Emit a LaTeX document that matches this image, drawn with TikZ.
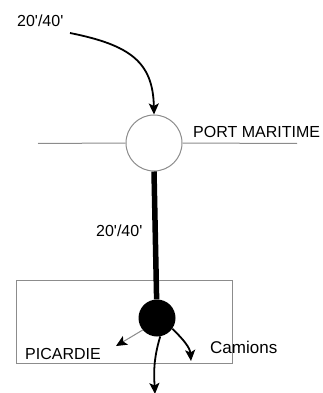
\documentclass[tikz,border=0pt]{standalone}
\usepackage{fontspec}
\setmainfont{Liberation Sans}
\usetikzlibrary{arrows.meta}
\begin{document}
\begin{tikzpicture}[x=1pt,y=-1pt,
  lbl/.style={anchor=base west,inner sep=0pt,font=\fontsize{16}{16}\selectfont},
  thin grey/.style={draw=black!45,line width=1pt},
  tip/.style={-{Stealth[length=11pt,width=10pt,inset=2.5pt,color=black]}},
  flow/.style={draw=black,line width=1.8pt,tip}]
\useasboundingbox (0,0) rectangle (322,393);

% region box
\node[thin grey,minimum width=216pt,minimum height=83pt,inner sep=0pt] (region) at (124,321.5) {};

% port: open circle on the coast line
\node[thin grey,fill=white,circle,minimum size=56pt,inner sep=0pt] (port) at (154,143) {};
\coordinate (coastW) at (38,143.5);
\coordinate (coastE) at (297,143.5);
\draw[thin grey] (coastW) -- (port.west);
\draw[thin grey] (port.east) -- (coastE);

% inland hub
\node[circle,fill=black,minimum size=37pt,inner sep=0pt] (hub) at (157,318) {};
\draw[line width=5.5pt] (port.south) -- (hub);

% labels
\node[lbl] (topq) at (17,27) {20\textquotesingle/40\textquotesingle};
\node[lbl] (midq) at (96,236) {20\textquotesingle/40\textquotesingle};
\node[lbl] (portlbl) at (193,137) {PORT MARITIME};
\node[lbl] (reglbl) at (25,359) {PICARDIE};
\node[lbl,font=\fontsize{17}{17}\selectfont] (trucks) at (210,353) {Camions};

% incoming containers
\coordinate (inS) at (70,33);
\draw[flow] (inS) .. controls (130,45) and (153,62) .. (port.north);

% distribution from the hub
\coordinate (westE) at (116,346);
\coordinate (eastE) at (191,361);
\coordinate (southE) at (155,394);
\draw[draw=black!45,line width=1pt,tip] (hub.220) -- (westE);
\draw[flow] (hub.-35) .. controls (184,340) and (190,348) .. (eastE);
\draw[flow] (hub.-80) .. controls (153,360) and (154,375) .. (southE);
\end{tikzpicture}
\end{document}
